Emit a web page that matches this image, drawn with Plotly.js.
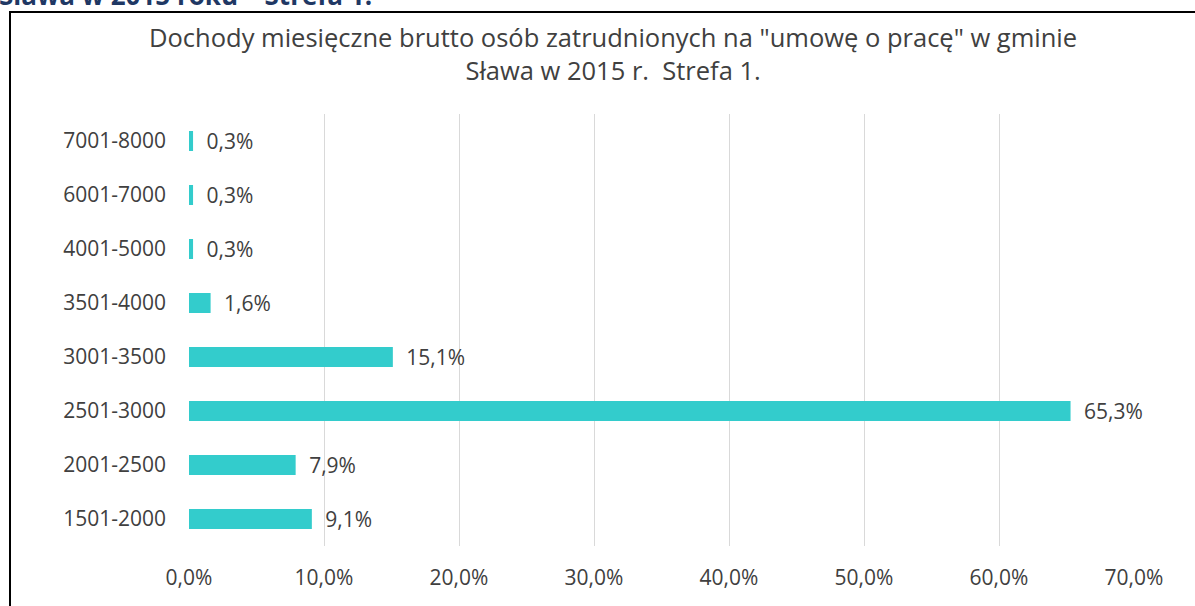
<!DOCTYPE html>
<html>
<head>
<meta charset="utf-8">
<script src="https://cdn.plot.ly/plotly-3.0.1.min.js"></script>
<style>
html,body{margin:0;padding:0;background:#fff;overflow:hidden;}
#wrap{position:relative;width:1195px;height:606px;overflow:hidden;}
#head{position:absolute;left:0;top:0;width:600px;height:12px;overflow:hidden;}
#box{position:absolute;left:9px;top:11px;width:1200px;height:620px;border:2px solid #000;box-sizing:border-box;}
#chart{position:absolute;left:0;top:0;width:1195px;height:606px;}
</style>
</head>
<body>
<div id="wrap">
<svg id="head" width="600" height="12"><text x="-1" y="5" font-family="Open Sans, sans-serif" font-weight="bold" font-size="26" fill="#1F3864">Sława w 2015 roku – Strefa 1.</text></svg>
<div id="box"></div>
<div id="chart"></div>
</div>
<script>
const categories = ["1501-2000","2001-2500","2501-3000","3001-3500","3501-4000","4001-5000","6001-7000","7001-8000"];
const values = [9.1, 7.9, 65.3, 15.1, 1.6, 0.3, 0.3, 0.3];
const xTicks = [0,10,20,30,40,50,60,70];
const xTickText = xTicks.map(v => v.toFixed(1).replace('.', ',') + '%');
const titleText = 'Dochody miesięczne brutto osób zatrudnionych na "umowę o pracę" w gminie<br>Sława w 2015 r.  Strefa 1.';

const font = "Open Sans, sans-serif";
const trace = {
  type: 'bar',
  orientation: 'h',
  y: categories,
  x: values,
  marker: {color: '#33CCCC'},
  width: 0.37,
  texttemplate: '\u2002%{x:.1f}%',
  textposition: 'outside',
  constraintext: 'none',
  cliponaxis: false,
  textfont: {family: font, size: 21, color: '#404040'},
  hoverinfo: 'skip'
};
const layout = {
  width: 1195, height: 606,
  paper_bgcolor: 'rgba(0,0,0,0)',
  plot_bgcolor: 'rgba(0,0,0,0)',
  margin: {l: 189, r: 61, t: 114, b: 60},
  separators: ', ',
  showlegend: false,
  annotations: [{
    text: titleText, xref: 'paper', yref: 'paper', x: 0.449, y: 1.1405,
    xanchor: 'center', yanchor: 'middle', showarrow: false, align: 'center',
    font: {family: font, size: 25.5, color: '#404040'}
  }],
  xaxis: {range: [0, 70], tickmode: 'array', tickvals: xTicks, ticktext: xTickText,
          showgrid: true, gridcolor: '#D9D9D9', gridwidth: 1, zeroline: false,
          showline: false, ticks: '', ticklabelstandoff: 17,
          tickfont: {family: font, size: 21, color: '#404040'}},
  yaxis: {type: 'category', categoryorder: 'array', categoryarray: categories,
          showgrid: false, zeroline: false, showline: false, ticks: '',
          ticklabelstandoff: 22,
          tickfont: {family: font, size: 21, color: '#404040'}}
};
Plotly.newPlot('chart', [trace], layout, {displayModeBar: false, staticPlot: true});
</script>
</body>
</html>
